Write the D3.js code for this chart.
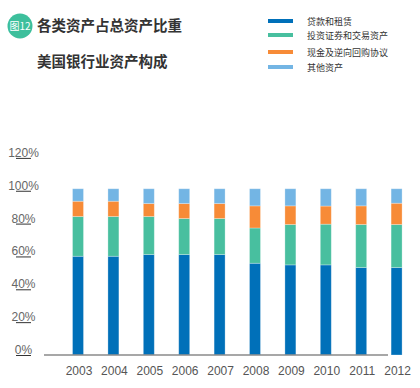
<!DOCTYPE html>
<html>
<head>
<meta charset="utf-8">
<script src="https://cdn.jsdelivr.net/npm/d3@7"></script>
<style>
  body { margin: 0; background: #fff; }
  svg { display: block; }
  text { font-family: "Liberation Sans", Arial, sans-serif; }
  .cjk { font-family: "Noto Sans CJK SC", sans-serif; }
</style>
</head>
<body>
<svg id="chart"></svg>
<script>
// data (share of total assets, %)
const years = ["2003", "2004", "2005", "2006", "2007", "2008", "2009", "2010", "2011", "2012"];
const loans = [59.4, 59.4, 60.4, 60.4, 60.4, 55.2, 54.2, 54.2, 52.6, 52.6];
const securities = [23.9, 23.9, 22.9, 21.7, 21.7, 21.2, 24.3, 24.5, 25.9, 25.9];
const repo = [9.2, 9.2, 7.8, 9.0, 9.0, 13.3, 11.2, 10.9, 11.2, 12.8];
const other = [7.5, 7.5, 8.9, 8.9, 8.9, 10.3, 10.3, 10.4, 10.3, 8.7];
const seriesNames = ["贷款和租赁", "投资证券和交易资产", "现金及逆向回购协议", "其他资产"];
const yTicks = [0, 20, 40, 60, 80, 100, 120];

const colors = ["#0070b9", "#48bf9f", "#f78b37", "#73b5e4"];
const keys = ["loans", "securities", "repo", "other"];

const width = 420, height = 388;
const svg = d3.select("#chart")
    .attr("width", width)
    .attr("height", height);

// title block
svg.append("circle")
    .attr("cx", 20).attr("cy", 26).attr("r", 12.5)
    .attr("fill", "#3dbf9c");
svg.append("text")
    .attr("class", "cjk")
    .attr("x", 20).attr("y", 30)
    .attr("text-anchor", "middle")
    .attr("font-size", 10)
    .attr("fill", "#fff")
    .text("图12");
svg.append("text")
    .attr("class", "cjk")
    .attr("x", 37).attr("y", 31)
    .attr("font-size", 14.5)
    .attr("font-weight", "bold")
    .attr("fill", "#333")
    .text("各类资产占总资产比重");
svg.append("text")
    .attr("class", "cjk")
    .attr("x", 37).attr("y", 67)
    .attr("font-size", 14.5)
    .attr("font-weight", "bold")
    .attr("fill", "#333")
    .text("美国银行业资产构成");

// legend
const legendY = [21, 35, 52, 67];
const legend = svg.append("g");
seriesNames.forEach((name, i) => {
    legend.append("rect")
        .attr("x", 268).attr("y", legendY[i] - 2)
        .attr("width", 25).attr("height", 4)
        .attr("fill", colors[i]);
    legend.append("text")
        .attr("class", "cjk")
        .attr("x", 307).attr("y", legendY[i] + 3.5)
        .attr("font-size", 9)
        .attr("fill", "#333")
        .text(name);
});

// stacked table built from the arrays
const table = years.map((yr, i) => ({
    year: yr, loans: loans[i], securities: securities[i], repo: repo[i], other: other[i]
}));
const stacked = d3.stack().keys(keys)(table);

const x = d3.scaleBand()
    .domain(years)
    .range([48.1, 426.5])
    .paddingInner(0.69)
    .paddingOuter(0.69);
const y = d3.scaleLinear()
    .domain([0, 120])
    .range([355, 155.5]);

// bars
svg.append("g")
    .selectAll("g")
    .data(stacked)
    .join("g")
    .attr("fill", (d, i) => colors[i])
    .selectAll("rect")
    .data(d => d)
    .join("rect")
    .attr("x", d => x(d.data.year))
    .attr("width", x.bandwidth())
    .attr("y", d => y(d[1]))
    .attr("height", d => y(d[0]) - y(d[1]))
    .attr("stroke", "#fff")
    .attr("stroke-opacity", 0.35)
    .attr("stroke-width", 0.8);

// x axis line
svg.append("line")
    .attr("x1", 44).attr("x2", 388)
    .attr("y1", y(0)).attr("y2", y(0))
    .attr("stroke", "#8a8a8a")
    .attr("stroke-width", 1.6);

// x labels
svg.append("g")
    .selectAll("text")
    .data(years)
    .join("text")
    .attr("x", d => x(d) + x.bandwidth() / 2 + 1)
    .attr("y", 375)
    .attr("text-anchor", "middle")
    .attr("font-size", 12)
    .attr("fill", "#555")
    .text(d => d);

// y labels with the little underline marks
const yAxis = svg.append("g");
yAxis.selectAll("text")
    .data(yTicks)
    .join("text")
    .attr("x", 23.5)
    .attr("y", d => y(d) + d * 0.02 - 1)
    .attr("text-anchor", "middle")
    .attr("font-size", 12)
    .attr("fill", "#666")
    .text(d => d + "%");
yAxis.selectAll("line")
    .data(yTicks)
    .join("line")
    .attr("x1", 16).attr("x2", 31)
    .attr("y1", d => y(d) + d * 0.02 + 0.5)
    .attr("y2", d => y(d) + d * 0.02 + 0.5)
    .attr("stroke", "#333")
    .attr("stroke-width", 1);
</script>
</body>
</html>
